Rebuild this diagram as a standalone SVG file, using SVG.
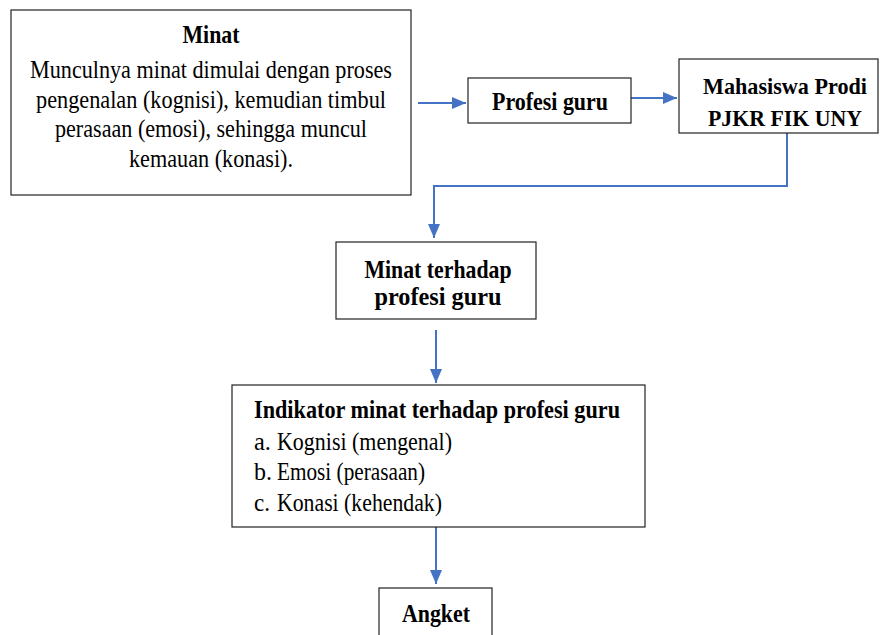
<svg xmlns="http://www.w3.org/2000/svg" width="880" height="635" viewBox="0 0 880 635">
<defs>
<marker id="ah" markerWidth="7" markerHeight="6" refX="7" refY="3" orient="auto" markerUnits="strokeWidth">
<path d="M0,0 L7,3 L0,6 Z" fill="#4472C4"/>
</marker>
<style>
.box{fill:#fff;stroke:#222;stroke-width:1.2}
.t{font-family:'Liberation Serif','Times New Roman',serif;font-size:25px;fill:#000}
.b{font-weight:bold}
.c{text-anchor:middle}
.con{fill:none;stroke:#4472C4;stroke-width:2}
</style>
</defs>
<rect width="880" height="635" fill="#fff"/>
<g id="connectors">
<path class="con" d="M418,103 L466,103" marker-end="url(#ah)"/>
<path class="con" d="M631,98 L677,98" marker-end="url(#ah)"/>
<path class="con" d="M787,133 L787,186 L434,186 L434,238" marker-end="url(#ah)"/>
<path class="con" d="M436,330 L436,383" marker-end="url(#ah)"/>
<path class="con" d="M436,527 L436,584" marker-end="url(#ah)"/>
</g>
<g id="minat">
<rect class="box" x="11" y="10" width="400" height="185"/>
<text class="t b c" x="211" y="43" textLength="57" lengthAdjust="spacingAndGlyphs">Minat</text>
<text class="t c" x="211" y="78" textLength="362" lengthAdjust="spacingAndGlyphs">Munculnya minat dimulai dengan proses</text>
<text class="t c" x="211" y="108" textLength="350" lengthAdjust="spacingAndGlyphs">pengenalan (kognisi), kemudian timbul</text>
<text class="t c" x="211" y="137" textLength="312" lengthAdjust="spacingAndGlyphs">perasaan (emosi), sehingga muncul</text>
<text class="t c" x="211" y="167" textLength="164" lengthAdjust="spacingAndGlyphs">kemauan (konasi).</text>
</g>
<g id="profesi">
<rect class="box" x="468" y="78" width="163" height="45"/>
<text class="t b c" x="550" y="110" textLength="116" lengthAdjust="spacingAndGlyphs">Profesi guru</text>
</g>
<g id="mahasiswa">
<rect class="box" x="679" y="59" width="199" height="74"/>
<text class="t b c" x="785" y="94" font-size="24" style="font-size:24px" textLength="164" lengthAdjust="spacingAndGlyphs">Mahasiswa Prodi</text>
<text class="t b c" x="785" y="126" style="font-size:24px" textLength="154" lengthAdjust="spacingAndGlyphs">PJKR FIK UNY</text>
</g>
<g id="minat-profesi">
<rect class="box" x="336" y="242" width="200" height="77"/>
<text class="t b c" x="438" y="278" textLength="147" lengthAdjust="spacingAndGlyphs">Minat terhadap</text>
<text class="t b c" x="438" y="305" textLength="127" lengthAdjust="spacingAndGlyphs">profesi guru</text>
</g>
<g id="indikator">
<rect class="box" x="232" y="385" width="413" height="142"/>
<text class="t b" x="254" y="418" textLength="366" lengthAdjust="spacingAndGlyphs">Indikator minat terhadap profesi guru</text>
<text class="t" x="254" y="450" textLength="17" lengthAdjust="spacingAndGlyphs">a.</text><text class="t" x="277" y="450" textLength="175" lengthAdjust="spacingAndGlyphs">Kognisi (mengenal)</text>
<text class="t" x="254" y="480" textLength="18" lengthAdjust="spacingAndGlyphs">b.</text><text class="t" x="277" y="480" textLength="148" lengthAdjust="spacingAndGlyphs">Emosi (perasaan)</text>
<text class="t" x="254" y="511" textLength="16" lengthAdjust="spacingAndGlyphs">c.</text><text class="t" x="277" y="511" textLength="165" lengthAdjust="spacingAndGlyphs">Konasi (kehendak)</text>
</g>
<g id="angket">
<rect class="box" x="379" y="588" width="113" height="60"/>
<text class="t b c" x="436" y="622" textLength="68" lengthAdjust="spacingAndGlyphs">Angket</text>
</g>
</svg>
